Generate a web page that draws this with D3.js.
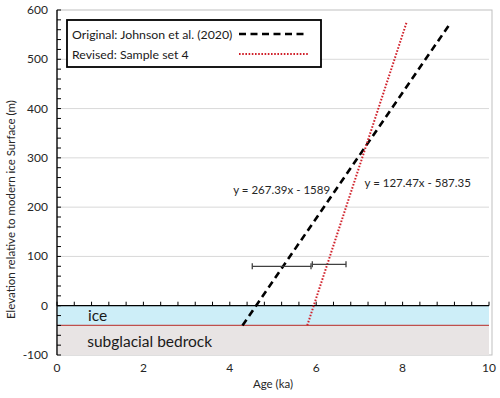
<!DOCTYPE html>
<html>
<head>
<meta charset="utf-8">
<script src="https://cdn.jsdelivr.net/npm/d3@7"></script>
<style>
  body { margin: 0; background: #fff; }
  svg { font-family: Lato, "Open Sans", sans-serif; }
</style>
</head>
<body>
<svg id="chart" width="500" height="398"></svg>
<script>
// chart data
const xTicks = [0, 2, 4, 6, 8, 10];
const yTicks = [-100, 0, 100, 200, 300, 400, 500, 600];
const gridValues = [100, 200, 300, 400, 500];
// fitted lines: slope, intercept, elevation extent they are drawn over
const seriesNames = ['Original: Johnson et al. (2020)', 'Revised: Sample set 4'];
const slopes = [127.47, 267.39];
const intercepts = [-587.35, -1589];
const lineExtent = [-40, 575];
// trendline labels (text, anchor x, anchor y in data units)
const eqTexts = ['y = 267.39x - 1589', 'y = 127.47x - 587.35'];
const eqX = [4.08, 7.12];
const eqY = [226, 240];
// horizontal error bars: centre age, lower, upper, elevation
const errCenter = [5.2, 6.3];
const errLow = [4.52, 5.91];
const errHigh = [5.88, 6.69];
const errElev = [80, 84];
// layers below the surface
const layerNames = ['ice', 'subglacial bedrock'];
const layerTop = [0, -40];
const layerBottom = [-40, -100];

const svg = d3.select('#chart');
const margin = {top: 10, right: 11, bottom: 43, left: 57};
const width = 500 - margin.left - margin.right;
const height = 398 - margin.top - margin.bottom;

const x = d3.scaleLinear().domain([0, 10]).range([0, width]);
const y = d3.scaleLinear().domain([-100, 600]).range([height, 0]);

const g = svg.append('g').attr('transform', `translate(${margin.left},${margin.top})`);

// plot frame
g.append('rect')
  .attr('x', 0).attr('y', 0)
  .attr('width', width + 3).attr('height', height)
  .attr('fill', 'none').attr('stroke', '#bfbfbf').attr('stroke-width', 1);

// gridlines
g.selectAll('.grid').data(gridValues).enter().append('line')
  .attr('x1', 0).attr('x2', width)
  .attr('y1', d => y(d)).attr('y2', d => y(d))
  .attr('stroke', '#d9d9d9').attr('stroke-width', 1);

// layers
const layerColors = ['#cdeef8', '#e8e4e4'];
g.selectAll('.layer').data(layerNames).enter().append('rect')
  .attr('x', 0).attr('width', width)
  .attr('y', (d, i) => y(layerTop[i]))
  .attr('height', (d, i) => y(layerBottom[i]) - y(layerTop[i]))
  .attr('fill', (d, i) => layerColors[i]);

g.append('line')
  .attr('x1', 0).attr('x2', width)
  .attr('y1', y(-40)).attr('y2', y(-40))
  .attr('stroke', '#c0504d').attr('stroke-width', 1.3);

g.append('text').attr('x', x(0.72)).attr('y', y(-20) + 5)
  .attr('font-size', 15.5).attr('fill', '#1a1a1a').text(layerNames[0]);
g.append('text').attr('x', x(0.7)).attr('y', y(-73) + 5)
  .attr('font-size', 15.5).attr('fill', '#1a1a1a').text(layerNames[1]);

// y axis
g.append('line').attr('x1', 0).attr('x2', 0).attr('y1', 0).attr('y2', height)
  .attr('stroke', '#000').attr('stroke-width', 1.3);
const yMinor = d3.range(-100, 601, 20);
g.selectAll('.ytick').data(yMinor).enter().append('line')
  .attr('x1', 0).attr('x2', 4)
  .attr('y1', d => y(d)).attr('y2', d => y(d))
  .attr('stroke', '#000').attr('stroke-width', 1);
g.selectAll('.ylab').data(yTicks).enter().append('text')
  .attr('x', -9).attr('y', d => y(d) + 4)
  .attr('text-anchor', 'end').attr('font-size', 12).attr('fill', '#262626')
  .text(d => d);

// x axis at zero
g.append('line').attr('x1', 0).attr('x2', width).attr('y1', y(0)).attr('y2', y(0))
  .attr('stroke', '#000').attr('stroke-width', 1.3);
const xMinor = d3.range(0, 10.01, 0.4);
g.selectAll('.xtick').data(xMinor).enter().append('line')
  .attr('x1', d => x(d)).attr('x2', d => x(d))
  .attr('y1', y(0)).attr('y2', y(0) - 4)
  .attr('stroke', '#000').attr('stroke-width', 1);
g.selectAll('.xlab').data(xTicks).enter().append('text')
  .attr('x', d => x(d)).attr('y', height + 17)
  .attr('text-anchor', 'middle').attr('font-size', 12).attr('fill', '#262626')
  .text(d => d);

// axis titles
svg.append('text')
  .attr('x', margin.left + x(5)).attr('y', 388)
  .attr('text-anchor', 'middle').attr('font-size', 11.5).attr('fill', '#262626')
  .text('Age (ka)');
svg.append('text')
  .attr('transform', `translate(15,${margin.top + y(195)}) rotate(-90)`)
  .attr('text-anchor', 'middle').attr('font-size', 11.5).attr('fill', '#262626')
  .text('Elevation relative to modern ice Surface (m)');

// fitted lines
const lineStyles = [
  {stroke: '#000', width: 2.6, dash: '7,4.5'},
  {stroke: '#d0202a', width: 2, dash: '1.6,1.6'}
];
const line = d3.line().x(d => x(d[0])).y(d => y(d[1]));
seriesNames.forEach((name, i) => {
  const pts = lineExtent.map(e => [(e - intercepts[i]) / slopes[i], e]);
  g.append('path').datum(pts)
    .attr('d', line)
    .attr('fill', 'none')
    .attr('stroke', lineStyles[i].stroke)
    .attr('stroke-width', lineStyles[i].width)
    .attr('stroke-dasharray', lineStyles[i].dash);
});

// error bars
errCenter.forEach((c, i) => {
  const yy = y(errElev[i]);
  g.append('line').attr('x1', x(errLow[i])).attr('x2', x(errHigh[i]))
    .attr('y1', yy).attr('y2', yy).attr('stroke', '#404040').attr('stroke-width', 1.3);
  [errLow[i], errHigh[i]].forEach(v => {
    g.append('line').attr('x1', x(v)).attr('x2', x(v))
      .attr('y1', yy - 3).attr('y2', yy + 3)
      .attr('stroke', '#404040').attr('stroke-width', 1.3);
  });
});

// trendline labels
eqTexts.forEach((t, i) => {
  g.append('text').attr('x', x(eqX[i])).attr('y', y(eqY[i]))
    .attr('font-size', 11.5).attr('fill', '#262626').text(t);
});

// legend
const legend = svg.append('g').attr('transform', 'translate(67,20)');
legend.append('rect').attr('x', 0).attr('y', 0).attr('width', 254).attr('height', 47)
  .attr('fill', '#fff').attr('stroke', '#000').attr('stroke-width', 1.8);
seriesNames.forEach((name, i) => {
  const yy = 14 + i * 20;
  legend.append('text').attr('x', 5).attr('y', yy + 5)
    .attr('font-size', 12.3).attr('fill', '#1a1a1a').text(name);
  legend.append('line').attr('x1', 172).attr('x2', 241)
    .attr('y1', yy).attr('y2', yy)
    .attr('stroke', lineStyles[i].stroke)
    .attr('stroke-width', lineStyles[i].width)
    .attr('stroke-dasharray', lineStyles[i].dash);
});
</script>
</body>
</html>
